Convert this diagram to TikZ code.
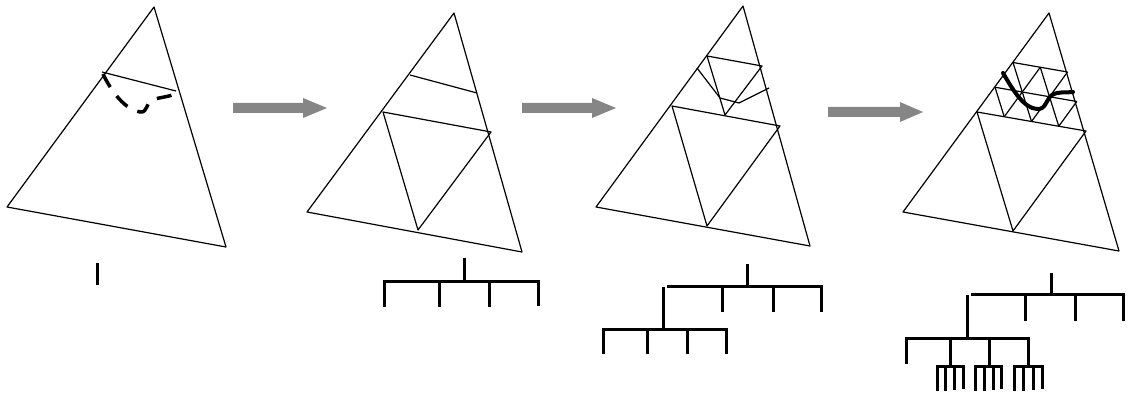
\documentclass[tikz,border=0pt]{standalone}
\begin{document}
\begin{tikzpicture}[x=1pt,y=-1pt,
  edge/.style={line width=1.2pt, line join=round},
  treeline/.style={line width=3pt},
  bigarrow/.style={fill=gray!95!white, draw=none}]
\useasboundingbox (0,0) rectangle (1131,395);
% ---------- triangle 1 ----------
\coordinate (a1) at (154,7); \coordinate (l1) at (7,207); \coordinate (r1) at (226,247);
\draw[edge] (a1) -- (l1) -- (r1) -- cycle;
\coordinate (i1a) at (102,72); \coordinate (i1b) at (176,91);
\draw[edge] (i1a) -- (i1b);
\draw[line width=3.5pt, dash pattern=on 15pt off 11pt] (103,74) .. controls (112,93) and (126,110) .. (140,112) .. controls (148,113) and (146,102) .. (152,100) .. controls (160,97) and (170,97) .. (177,93);
% ---------- arrow 1 ----------
\fill[bigarrow] (233,103) -- (303,103) -- (303,98) -- (327,108) -- (303,118) -- (303,113) -- (233,113) -- cycle;
% ---------- triangle 2 ----------
\coordinate (a2) at (454,13); \coordinate (l2) at (307,212); \coordinate (r2) at (522,252);
\coordinate (m2l) at (383,112); \coordinate (m2r) at (491,132); \coordinate (m2b) at (418,230);
\draw[edge] (a2) -- (l2) -- (r2) -- cycle;
\draw[edge] (m2l) -- (m2r) -- (m2b) -- cycle;
\draw[edge] (410,75) -- (477,93);
% ---------- arrow 2 ----------
\fill[bigarrow] (522,103) -- (592,103) -- (592,98) -- (616,108) -- (592,118) -- (592,113) -- (522,113) -- cycle;
% ---------- triangle 3 ----------
\coordinate (a3) at (743,6); \coordinate (l3) at (596,207); \coordinate (r3) at (810,246);
\coordinate (m3l) at (672,106); \coordinate (m3r) at (780,126); \coordinate (m3b) at (707,226);
\coordinate (q3l) at (707,56); \coordinate (q3r) at (762,66); \coordinate (q3b) at (725,115);
\draw[edge] (a3) -- (l3) -- (r3) -- cycle;
\draw[edge] (m3l) -- (m3r) -- (m3b) -- cycle;
\draw[edge] (q3l) -- (q3r) -- (q3b) -- cycle;
\draw[edge] (697,68) -- (720,98) -- (739,103) -- (769,88);
% ---------- arrow 3 ----------
\fill[bigarrow] (828,107) -- (900,107) -- (900,102) -- (923,112) -- (900,122) -- (900,117) -- (828,117) -- cycle;
% ---------- triangle 4 ----------
\coordinate (a4) at (1049,13); \coordinate (l4) at (903,212); \coordinate (r4) at (1119,251);
\coordinate (m4l) at (977,112); \coordinate (m4r) at (1086,131); \coordinate (m4b) at (1013,231);
\draw[edge] (a4) -- (l4) -- (r4) -- cycle;
\draw[edge] (m4l) -- (m4r) -- (m4b) -- cycle;
\coordinate (p20) at (1013,62.5); \coordinate (p02) at (1067.5,72); \coordinate (p22) at (1031.5,121.5);
\coordinate (p30) at (995,87.25); \coordinate (p03) at (1076.75,101.5);
\coordinate (p31) at (1004.25,116.75); \coordinate (p11) at (1040.25,67.25); \coordinate (p13) at (1058.75,126.25);
\draw[edge] (p20) -- (p02);
\draw[edge] (p30) -- (p03);
\draw[edge] (p30) -- (p31);
\draw[edge] (p20) -- (p22);
\draw[edge] (p11) -- (p13);
\draw[edge] (p11) -- (p31);
\draw[edge] (p02) -- (p22);
\draw[edge] (p03) -- (p13);
\draw[line width=4pt, line cap=round, line join=round] (1003,73) .. controls (1014,92) and (1024,108) .. (1037,109) .. controls (1046,110) and (1046,99) .. (1052,95) .. controls (1059,91) and (1066,93) .. (1073,92);
% ---------- tree 1 ----------
\draw[treeline] (97,263) -- (97,285);
% ---------- tree 2 ----------
\draw[treeline] (464,258) -- (464,281);
\draw[treeline] (384,307) -- (384,281) -- (538,281) -- (538,306);
\draw[treeline] (439,281) -- (439,307);
\draw[treeline] (489,281) -- (489,307);
% ---------- tree 3 ----------
\draw[treeline] (747,264) -- (747,286);
\draw[treeline] (667,286) -- (821,286) -- (821,312);
\draw[treeline] (722,286) -- (722,312);
\draw[treeline] (773,286) -- (773,312);
\draw[treeline] (663,287) -- (663,329);
\draw[treeline] (603,354) -- (603,329) -- (726,329) -- (726,354);
\draw[treeline] (647,329) -- (647,354);
\draw[treeline] (687,329) -- (687,354);
% ---------- tree 4 ----------
\draw[treeline] (1051,273) -- (1051,294);
\draw[treeline] (971,294) -- (1123,294) -- (1123,321);
\draw[treeline] (1025,294) -- (1025,321);
\draw[treeline] (1075,294) -- (1075,321);
\draw[treeline] (967,295) -- (967,338);
\draw[treeline] (906,364) -- (906,338) -- (1028,338);
\draw[treeline] (950,338) -- (950,366);
\draw[treeline] (989,338) -- (989,366);
\draw[treeline] (1028,337) -- (1028,366);
\draw[treeline] (937,391) -- (937,366) -- (963,366) -- (963,389);
\draw[treeline] (945,366) -- (945,391);
\draw[treeline] (954,366) -- (954,390);
\draw[treeline] (975,391) -- (975,366) -- (1001,366) -- (1001,389);
\draw[treeline] (984,366) -- (984,391);
\draw[treeline] (993,366) -- (993,390);
\draw[treeline] (1014,391) -- (1014,366) -- (1042,366) -- (1042,389);
\draw[treeline] (1023,366) -- (1023,391);
\draw[treeline] (1033,366) -- (1033,390);
\end{tikzpicture}
\end{document}
